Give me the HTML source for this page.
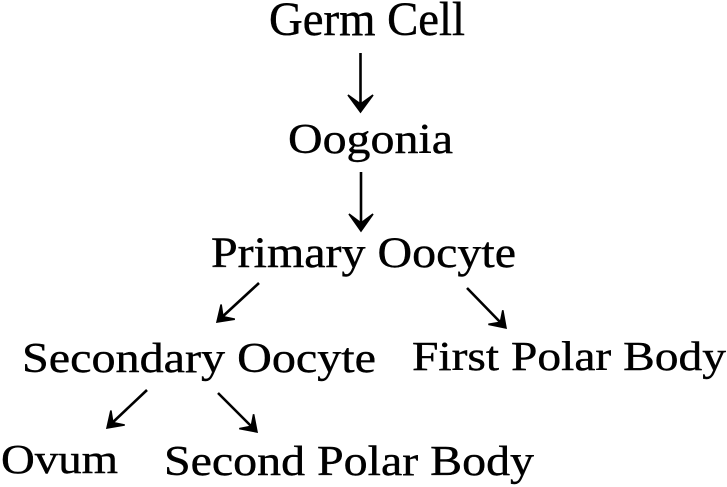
<!DOCTYPE html>
<html>
<head>
<meta charset="utf-8">
<style>
  html, body { margin: 0; padding: 0; background: #ffffff; }
  body { width: 727px; height: 487px; overflow: hidden; }
  svg { display: block; }
  text { font-family: "Liberation Serif", "DejaVu Serif", serif; font-size: 48px; fill: #000; stroke: #000; stroke-width: 0.45; }
</style>
</head>
<body>
<svg width="727" height="487" viewBox="0 0 727 487" xmlns="http://www.w3.org/2000/svg">
  <rect x="0" y="0" width="727" height="487" fill="#ffffff"/>

  <!-- Labels -->
  <text transform="translate(269,35) scale(1,1)" textLength="196" lengthAdjust="spacingAndGlyphs">Germ Cell</text>
  <text transform="translate(288,153) scale(1,0.88)" textLength="165" lengthAdjust="spacingAndGlyphs">Oogonia</text>
  <text transform="translate(211,267) scale(1,0.9)" textLength="305" lengthAdjust="spacingAndGlyphs">Primary Oocyte</text>
  <text transform="translate(22,372) scale(1,0.88)" textLength="354" lengthAdjust="spacingAndGlyphs">Secondary Oocyte</text>
  <text transform="translate(412,370) scale(1,0.86)" textLength="314" lengthAdjust="spacingAndGlyphs">First Polar Body</text>
  <text transform="translate(1,473) scale(1,0.86)" textLength="117" lengthAdjust="spacingAndGlyphs">Ovum</text>
  <text transform="translate(164,475) scale(1,0.88)" textLength="370" lengthAdjust="spacingAndGlyphs">Second Polar Body</text>

  <!-- Arrow shafts -->
  <g fill="none" stroke="#000" stroke-width="2.6" stroke-linecap="butt">
    <line x1="360.5" y1="53" x2="360.5" y2="106"/>
    <line x1="361" y1="172" x2="361" y2="225"/>
    <line x1="259" y1="283" x2="221" y2="318"/>
    <line x1="467" y1="288" x2="502" y2="324"/>
    <line x1="147" y1="390" x2="111" y2="424"/>
    <line x1="218" y1="393" x2="253" y2="428"/>
  </g>
  <!-- Arrow heads (concave, filled) -->
  <g fill="#000" stroke="#000" stroke-width="1.6" stroke-linejoin="miter">
    <path d="M360.5,112 L348,95 L360.5,104 L373,95 Z"/>
    <path d="M361,231 L349,214 L361,223 L373,214 Z"/>
    <path d="M217,322 L221.1,304.5 L222.9,316.6 L234.8,319.2 Z"/>
    <path d="M506,328 L502.8,310.3 L500.4,322.3 L488.4,324.3 Z"/>
    <path d="M107,428 L110.9,410.5 L112.8,422.5 L124.7,425 Z"/>
    <path d="M257,432 L253.6,414.3 L251.3,426.3 L239.3,428.6 Z"/>
  </g>
</svg>
</body>
</html>
